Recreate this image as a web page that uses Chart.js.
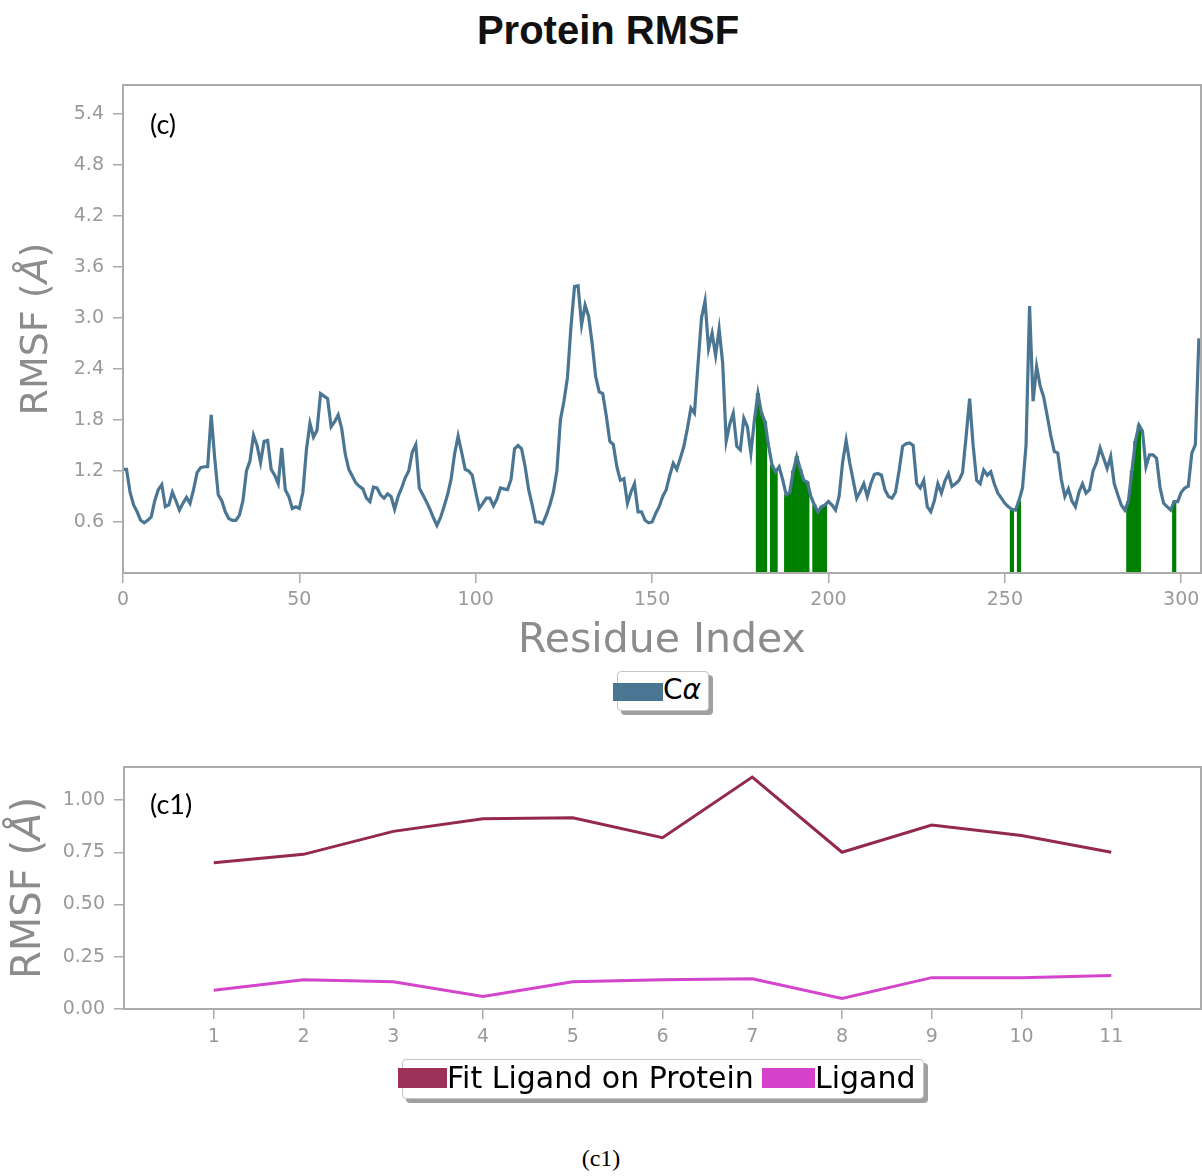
<!DOCTYPE html>
<html>
<head>
<meta charset="utf-8">
<script src="https://cdn.jsdelivr.net/npm/chart.js@4.4.1/dist/chart.umd.min.js"></script>
<style>
  body { margin: 0; background: #fff; width: 1202px; height: 1176px; position: relative; overflow: hidden; }
  .abs { position: absolute; white-space: nowrap; }
  #title { left: 608px; top: 10px; transform: translateX(-50%); font: bold 40px/40px "Liberation Sans", Arial, sans-serif; color: #111; }
  .panel { font-family: Lato, "Open Sans", sans-serif; font-size: 27px; line-height: 27px; color: #000; }
  .legend { position: absolute; background: #fff; border: 1px solid #c4c4c4; border-radius: 4px; box-shadow: 4px 4px 0 #a0a0a0; }
  .sw { position: absolute; }
  .lt { position: absolute; font-family: "DejaVu Sans", sans-serif; color: #000; white-space: nowrap; }
  #caption { left: 601px; top: 1146px; transform: translateX(-50%); font: 24px/24px "Liberation Serif", "Times New Roman", serif; color: #000; }
</style>
</head>
<body>
<div id="title" class="abs">Protein RMSF</div>

<div class="abs" style="left:0;top:80px;width:1202px;height:586px;">
  <canvas id="topChart" width="1202" height="586"></canvas>
</div>
<div class="abs panel" style="left:150px;top:110px;">(c)</div>

<div class="legend" style="left:617px;top:671px;width:90px;height:38px;"></div>
<div class="sw" style="left:613px;top:683px;width:50px;height:18px;background:#4b7693;"></div>
<div class="lt" style="left:663px;top:676px;font-size:28px;line-height:28px;">C<i>α</i></div>

<div class="abs" style="left:0;top:760px;width:1202px;height:300px;">
  <canvas id="ligChart" width="1202" height="300"></canvas>
</div>
<div class="abs panel" style="left:150px;top:790px;">(c1)</div>

<div class="legend" style="left:402px;top:1059px;width:520px;height:38px;"></div>
<div class="sw" style="left:398px;top:1068px;width:49px;height:20px;background:#9d3158;"></div>
<div class="lt" style="left:447px;top:1063px;font-size:30px;line-height:30px;">Fit Ligand on Protein</div>
<div class="sw" style="left:762px;top:1068px;width:53px;height:20px;background:#d641cc;"></div>
<div class="lt" style="left:815px;top:1063px;font-size:30px;line-height:30px;">Ligand</div>

<div id="caption" class="abs">(c1)</div>

<script>
// C-alpha RMSF per residue (index = residue number)
const rmsf = [
  1.22,1.22,0.95,0.80,0.72,0.62,0.59,0.62,0.66,0.85,
  0.98,1.04,0.78,0.80,0.95,0.85,0.74,0.82,0.89,0.82,
  0.98,1.18,1.24,1.25,1.25,1.86,1.35,0.92,0.85,0.72,
  0.64,0.62,0.62,0.68,0.85,1.20,1.32,1.62,1.50,1.30,
  1.55,1.56,1.22,1.15,1.05,1.47,0.98,0.90,0.76,0.78,
  0.76,0.95,1.45,1.76,1.60,1.68,2.11,2.08,2.05,1.72,
  1.78,1.86,1.70,1.40,1.22,1.14,1.06,1.02,0.99,
  0.88,0.84,1.01,1.00,0.92,0.88,0.93,0.90,0.75,0.90,
  1.00,1.12,1.20,1.42,1.51,1.00,0.92,0.84,0.75,0.65,
  0.56,0.65,0.78,0.92,1.10,1.40,1.61,1.42,1.22,1.20,
  1.15,0.95,0.76,0.82,0.88,0.88,0.79,0.87,1.00,0.99,
  0.98,1.10,1.46,1.50,1.46,1.25,0.98,0.80,0.60,0.60,
  0.58,0.68,0.80,0.95,1.20,1.80,2.02,2.30,2.90,3.37,
  3.38,2.92,3.15,3.02,2.70,2.31,2.13,2.11,1.85,1.55,
  1.51,1.25,1.09,1.11,0.82,0.95,1.05,0.72,0.72,0.62,
  0.59,0.60,0.70,0.78,0.90,0.98,1.15,1.29,1.22,1.35,
  1.49,1.70,1.94,1.88,2.45,3.00,3.20,2.64,2.82,2.56,
  2.87,2.47,1.55,1.75,1.88,1.49,1.45,1.82,1.72,1.41,
  1.80,2.11,1.88,1.78,1.50,1.27,1.19,1.25,1.10,0.92,
  0.95,1.20,1.37,1.22,1.09,1.07,0.90,0.80,0.72,
  0.78,0.80,0.84,0.80,0.74,0.90,1.30,1.56,1.30,1.09,
  0.88,0.96,1.05,0.90,1.05,1.16,1.17,1.15,0.98,0.90,
  0.88,0.95,1.20,1.49,1.52,1.53,1.50,1.05,1.00,1.09,
  0.78,0.72,0.85,1.05,0.94,1.08,1.17,1.02,1.05,1.09,
  1.18,1.60,2.05,1.50,1.09,1.05,1.21,1.15,1.19,1.05,
  0.94,0.88,0.82,0.78,0.75,0.74,0.85,1.00,1.50,3.14,
  2.02,2.43,2.20,2.07,1.85,1.62,1.43,1.41,1.10,0.90,
  0.99,0.85,0.78,0.95,1.05,0.94,0.98,1.20,1.30,1.47,
  1.35,1.23,1.37,1.05,0.92,0.80,0.74,0.84,1.20,1.55,
  1.74,1.67,1.25,1.39,1.39,1.35,1.00,0.82,0.78,0.74,
  0.84,0.84,0.95,1.00,1.02,1.41,1.51,2.76
];

// residues in contact with the ligand (green bars)
const contactResidues = [180, 181, 182, 184, 185, 188, 189, 190, 191, 192, 193, 194,
  196, 197, 198, 199, 252, 254, 285, 286, 287, 288, 298];

const topXTicks = [0, 50, 100, 150, 200, 250, 300];
const topYTicks = [0.6, 1.2, 1.8, 2.4, 3.0, 3.6, 4.2, 4.8, 5.4];

// ligand atoms
const atomIndex = [1, 2, 3, 4, 5, 6, 7, 8, 9, 10, 11];
const fitLigandOnProtein = [0.70, 0.74, 0.85, 0.91, 0.915, 0.82, 1.11, 0.75, 0.88, 0.83, 0.75];
const ligand = [0.09, 0.14, 0.13, 0.06, 0.13, 0.14, 0.145, 0.05, 0.15, 0.15, 0.16];
const ligYTicks = [0, 0.25, 0.5, 0.75, 1.0];

const tickGray = '#9a9a9a';
const frameGray = '#ababab';

const framePlugin = {
  id: 'frame',
  afterDraw(chart) {
    const { ctx, chartArea: a } = chart;
    ctx.save();
    ctx.strokeStyle = frameGray;
    ctx.lineWidth = 2;
    ctx.strokeRect(a.left, a.top, a.right - a.left, a.bottom - a.top);
    ctx.restore();
  }
};

// y title with an italic angstrom sign, like the mathtext original
const yTitlePlugin = {
  id: 'yTitle',
  afterDraw(chart, args, opts) {
    const { ctx, chartArea: a } = chart;
    const parts = [['RMSF (', ''], ['Å', 'italic '], [')', '']];
    const font = style => style + opts.size + 'px "DejaVu Sans"';
    ctx.save();
    ctx.translate(opts.x, (a.top + a.bottom) / 2);
    ctx.rotate(-Math.PI / 2);
    ctx.fillStyle = '#8c8c8c';
    ctx.textBaseline = 'middle';
    let total = 0;
    parts.forEach(p => {
      ctx.font = font(p[1]);
      total += ctx.measureText(p[0]).width;
    });
    let x = -total / 2;
    parts.forEach(p => {
      ctx.font = font(p[1]);
      ctx.fillText(p[0], x, 0);
      x += ctx.measureText(p[0]).width;
    });
    ctx.restore();
  }
};

function axisGrid() {
  return { drawOnChartArea: false, drawTicks: true, tickLength: 10, color: frameGray, lineWidth: 1.5, offset: false };
}
function tickFont() {
  return { family: 'DejaVu Sans', size: 19 };
}
// keep the plot area where the layout puts it: no extra room for edge labels
function noEdgePadding(s) {
  s.paddingTop = 0; s.paddingBottom = 0; s.paddingLeft = 0; s.paddingRight = 0;
}

new Chart(document.getElementById('topChart').getContext('2d'), {
  type: 'line',
  data: {
    datasets: [{
      type: 'line',
      label: 'Cα',
      data: rmsf.map((v, i) => ({ x: i, y: v })),
      borderColor: '#4b7693',
      borderWidth: 3.2,
      pointRadius: 0,
      tension: 0,
      order: 0
    }, {
      type: 'bar',
      label: 'contacts',
      data: contactResidues.map(r => ({ x: r, y: rmsf[r] })),
      backgroundColor: '#008000',
      borderWidth: 0,
      barPercentage: 1,
      categoryPercentage: 1,
      order: 1
    }]
  },
  options: {
    responsive: false,
    animation: false,
    layout: { padding: { top: 5, right: 1, left: 0, bottom: 0 } },
    plugins: { legend: { display: false }, tooltip: { enabled: false }, yTitle: { x: 37, size: 38 } },
    scales: {
      x: {
        type: 'linear', min: 0, max: 305.6, offset: false,
        afterFit(s) { s.height = 93; noEdgePadding(s); },
        afterBuildTicks(s) { s.ticks = topXTicks.map(v => ({ value: v })); },
        grid: axisGrid(),
        border: { display: false },
        ticks: { color: tickGray, font: tickFont(), padding: 6, maxRotation: 0, autoSkip: false },
        title: { display: true, text: 'Residue Index', color: '#8c8c8c', font: { family: 'DejaVu Sans', size: 41 }, padding: { top: 0, bottom: 0 } }
      },
      y: {
        type: 'linear', min: 0, max: 5.74,
        afterFit(s) { s.width = 123; noEdgePadding(s); },
        afterBuildTicks(s) { s.ticks = topYTicks.map(v => ({ value: v })); },
        grid: axisGrid(),
        border: { display: false },
        ticks: { color: tickGray, font: tickFont(), padding: 9, callback: v => v.toFixed(1) }
      }
    }
  },
  plugins: [framePlugin, yTitlePlugin]
});

new Chart(document.getElementById('ligChart').getContext('2d'), {
  type: 'line',
  data: {
    datasets: [{
      label: 'Fit Ligand on Protein',
      data: atomIndex.map((a, i) => ({ x: a, y: fitLigandOnProtein[i] })),
      borderColor: '#93294f',
      borderWidth: 3,
      pointRadius: 0,
      tension: 0
    }, {
      label: 'Ligand',
      data: atomIndex.map((a, i) => ({ x: a, y: ligand[i] })),
      borderColor: '#d444cc',
      borderWidth: 3,
      pointRadius: 0,
      tension: 0
    }]
  },
  options: {
    responsive: false,
    animation: false,
    layout: { padding: { top: 7, right: 1, left: 0, bottom: 0 } },
    plugins: { legend: { display: false }, tooltip: { enabled: false }, yTitle: { x: 30, size: 40 } },
    scales: {
      x: {
        type: 'linear', min: 0, max: 12,
        afterFit(s) { s.height = 51; noEdgePadding(s); },
        afterBuildTicks(s) { s.ticks = atomIndex.map(v => ({ value: v })); },
        grid: axisGrid(),
        border: { display: false },
        ticks: { color: tickGray, font: tickFont(), padding: 7, maxRotation: 0, autoSkip: false }
      },
      y: {
        type: 'linear', min: 0, max: 1.158,
        afterFit(s) { s.width = 124; noEdgePadding(s); },
        afterBuildTicks(s) { s.ticks = ligYTicks.map(v => ({ value: v })); },
        grid: axisGrid(),
        border: { display: false },
        ticks: { color: tickGray, font: tickFont(), padding: 9, callback: v => v.toFixed(2) }
      }
    }
  },
  plugins: [framePlugin, yTitlePlugin]
});
</script>
</body>
</html>
